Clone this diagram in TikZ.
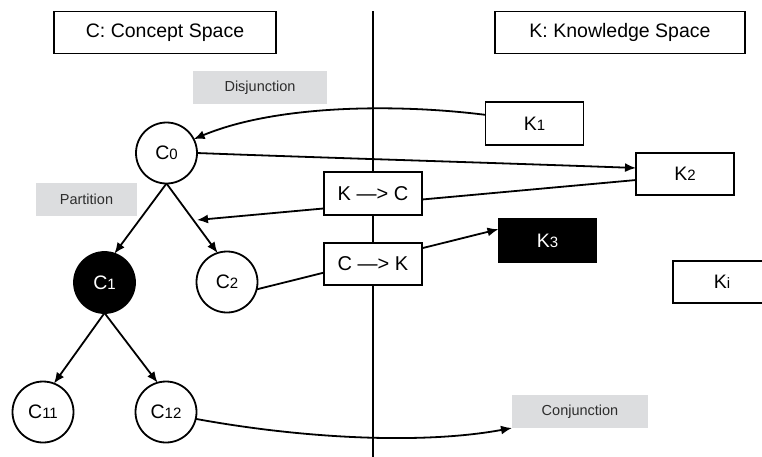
\documentclass[tikz,border=0pt]{standalone}
\usepackage{fontspec}
\setmainfont{Liberation Sans}
\usetikzlibrary{arrows.meta}
\pgfdeclarelayer{bg}
\pgfdeclarelayer{canvas}
\pgfsetlayers{canvas,bg,main}
\definecolor{lblgray}{RGB}{220,221,223}
\definecolor{lbltext}{RGB}{45,45,45}
\newcommand{\sbs}[1]{{\fontsize{15}{15}\selectfont #1}}
\begin{document}
\begin{tikzpicture}[x=1pt,y=-1pt,
  every node/.style={inner sep=0pt, outer sep=0pt},
  lw/.style={line width=1.8pt},
  bigfont/.style={font=\fontsize{19.5}{19.5}\selectfont},
  titlebox/.style={draw, lw, fill=white, minimum height=42pt, bigfont},
  kbox/.style={draw, lw, fill=white, minimum width=98pt, minimum height=42.5pt, bigfont},
  mapbox/.style={draw, lw, fill=white, minimum width=98.5pt, minimum height=42.5pt, font=\fontsize{20}{20}\selectfont},
  cnode/.style={draw, lw, circle, fill=white, minimum size=61pt, bigfont},
  graybox/.style={fill=lblgray, text=lbltext, minimum height=33pt, font=\fontsize{14.5}{14.5}\selectfont},
  arr/.style={lw, -{Latex[length=11pt,width=9pt]}}
]
\useasboundingbox (0,0) rectangle (762,456);
\clip (0,0) rectangle (762,456);
\begin{pgfonlayer}{canvas}
\fill[white] (0,0) rectangle (762,456);
\end{pgfonlayer}

% titles
\node[titlebox, minimum width=222.5pt] (ctitle) at (165,32.5) {C: Concept Space};
\node[titlebox, minimum width=250.5pt] (ktitle) at (620,32.5) {K: Knowledge Space};

% gray labels
\node[graybox, minimum width=134pt] (disj) at (260,87.5) {Disjunction};
\node[graybox, minimum width=101pt] (part) at (86.5,199.5) {Partition};
\node[graybox, minimum width=136pt] (conj) at (580,411.5) {Conjunction};

% concept nodes
\node[cnode] (C0) at (166.5,153) {C\sbs{0}};
\node[cnode, fill=black, text=white] (C1) at (104.5,282.5) {C\sbs{1}};
\node[cnode] (C2) at (227,282) {C\sbs{2}};
\node[cnode] (C11) at (43,412) {C\sbs{11}};
\node[cnode] (C12) at (166,412) {C\sbs{12}};

% knowledge nodes
\node[kbox] (K1) at (534.5,123.5) {K\sbs{1}};
\node[kbox] (K2) at (685,174) {K\sbs{2}};
\node[kbox, fill=black, draw=black, text=white] (K3) at (547.5,240.5) {K\sbs{3}};
\node[kbox] (Ki) at (722,282) {K\sbs{i}};

% mapping boxes
\node[mapbox] (kc) at (373,193.5) {K —> C};
\node[mapbox] (ck) at (373,264) {C —> K};

\coordinate (vtop) at (373,11);
\coordinate (vbot) at (373,458);
\coordinate (kcend) at (197,220);

\begin{pgfonlayer}{bg}
  \draw[lw] (vtop) -- (vbot);
  % tree
  \draw[arr] (C0.south) -- (C1.71);
  \draw[arr] (C0.south) -- (C2.108);
  \draw[arr] (C1.south) -- (C11.69);
  \draw[arr] (C1.south) -- (C12.106);
  % cross links
  \draw[arr] (K1.170) .. controls (400,104) and (278,104) .. (C0.27);
  \draw[arr] (C0.east) .. controls (300,157) and (500,163) .. (K2.173);
  \draw[arr] (K2.187) -- (kcend);
  \draw[arr] (C2.-14) -- (K3.167);
  \draw[arr] (C12.-13) .. controls (300,438) and (420,445) .. (conj.south west);
\end{pgfonlayer}
\end{tikzpicture}
\end{document}
